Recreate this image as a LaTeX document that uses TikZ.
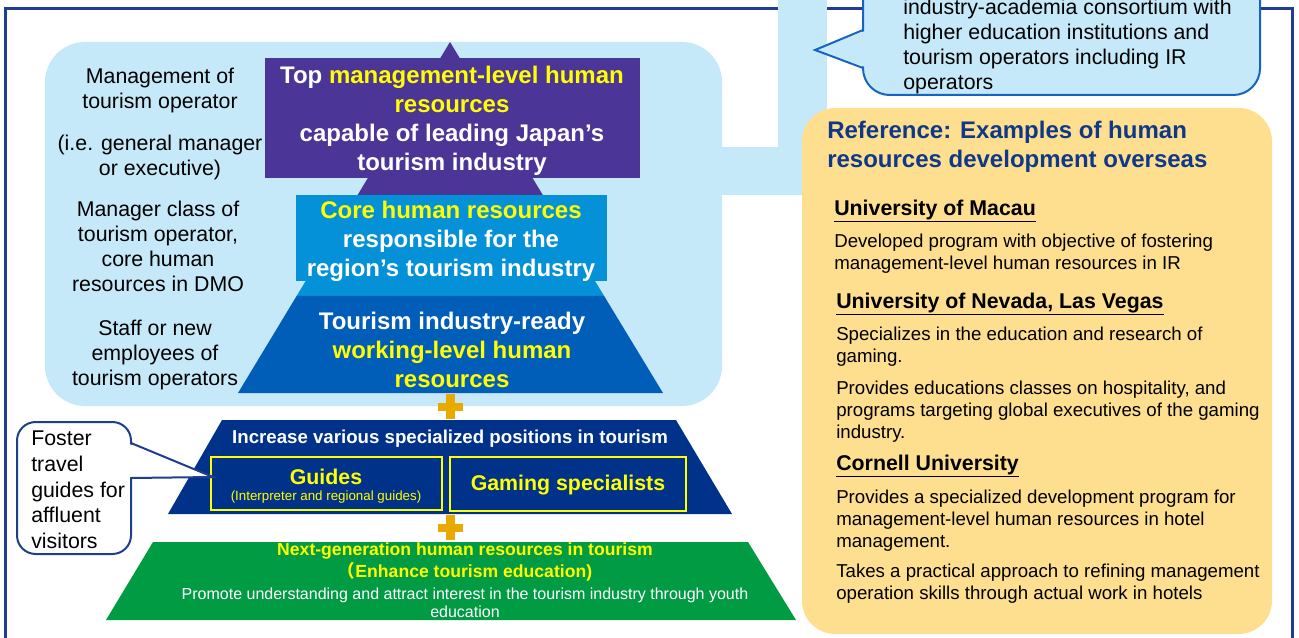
\documentclass[tikz,border=0pt]{standalone}
\usepackage{fontspec}
\setmainfont{Liberation Sans}
\newfontfamily\cjkfont{Noto Sans CJK JP}
\usetikzlibrary{calc}
\definecolor{frameblue}{HTML}{1F3E8F}
\definecolor{lightsky}{HTML}{C6E9FA}
\definecolor{toppurple}{HTML}{4B3597}
\definecolor{coreblue}{HTML}{0491D8}
\definecolor{workblue}{HTML}{005EB8}
\definecolor{specnavy}{HTML}{003289}
\definecolor{nextgreen}{HTML}{009B43}
\definecolor{hiyellow}{HTML}{FFFF00}
\definecolor{plusorange}{HTML}{E8A900}
\definecolor{refyellow}{HTML}{FEDF8F}
\definecolor{refblue}{HTML}{0F3888}
\definecolor{calloutblue}{HTML}{1565C0}
\newcommand{\yel}[1]{\textcolor{hiyellow}{#1}}

\begin{document}
\begin{tikzpicture}[x=0.75pt,y=-0.75pt,
  every node/.style={inner sep=0pt},
  sidetxt/.style={align=center,font=\fontsize{16}{18.75}\selectfont},
  tiertxt/.style={align=center,text=white,font=\fontsize{18}{21.75}\selectfont\bfseries},
  posbox/.style={draw=hiyellow,line width=1.5pt},
  postxt/.style={text=hiyellow,font=\fontsize{16}{18}\selectfont\bfseries},
  unihead/.style={anchor=west,font=\fontsize{16}{19}\selectfont\bfseries},
  refbody/.style={anchor=west,align=left,font=\fontsize{14}{16.6}\selectfont}]
\useasboundingbox (0,0) rectangle (1299,638);
% frame
\draw[frameblue,line width=2.25pt] (5,9) rectangle (1292,700);
% light blue area and band
\fill[lightsky,rounded corners=30] (45,42) rectangle (722,406);
\fill[lightsky] (715,147) rectangle (827,195);
\fill[lightsky] (778,-20) rectangle (827,195);
% pyramid
\coordinate (apex) at (450,42);
\coordinate (bl) at (238,393);
\coordinate (br) at (663,393);
\fill[toppurple] (apex) -- ($(apex)!0.436!(br)$) -- ($(apex)!0.436!(bl)$) -- cycle;
\fill[toppurple] (265,58) rectangle (640,178);
\fill[coreblue] ($(apex)!0.436!(bl)$) -- ($(apex)!0.436!(br)$) -- ($(apex)!0.7236!(br)$) -- ($(apex)!0.7236!(bl)$) -- cycle;
\fill[coreblue] (296,195) rectangle (607,281);
\fill[workblue] ($(apex)!0.7236!(bl)$) -- ($(apex)!0.7236!(br)$) -- (br) -- (bl) -- cycle;
\node (toptier) [tiertxt] at (452,121) {Top \yel{management-level human}\\\yel{resources}\\capable of leading Japan’s\\tourism industry};
\node (coretier) [tiertxt] at (451,241) {\yel{Core human resources}\\responsible for the\\region’s tourism industry};
\node (worktier) [tiertxt] at (452,350) {Tourism industry-ready\\\yel{working-level human}\\\yel{resources}};
% levels on the left
\node (mgmt) [sidetxt] at (160,90) {Management of\\tourism operator};
\node (mgmtex) [sidetxt] at (160,157) {(i.e. general manager\\or executive)};
\node (mgrclass) [sidetxt] at (158,246) {Manager class of\\tourism operator,\\core human\\resources in DMO};
\node (staff) [sidetxt] at (155,355) {Staff or new\\employees of\\tourism operators};
% plus signs
\foreach \py in {406.5,527.5}{
  \fill[plusorange] (437.5,\py-4) rectangle (462.5,\py+4);
  \fill[plusorange] (446,\py-12.5) rectangle (455,\py+12.5);
}
% specialized positions
\fill[specnavy] (222,420) -- (676,420) -- (732,514) -- (168,514) -- cycle;
\node (spectitle) [text=white,font=\fontsize{14}{16}\selectfont\bfseries] at (450,439) {Increase various specialized positions in tourism};
\draw[posbox] (211,457) rectangle (442,510);
\draw[posbox] (450,457) rectangle (686,511);
\node (guides) [postxt] at (326,477) {Guides};
\node (guidesub) [text=hiyellow,font=\fontsize{10}{12}\selectfont] at (326,497) {(Interpreter and regional guides)};
\node (gaming) [postxt] at (568,485) {Gaming specialists};
% next generation
\fill[nextgreen] (153,542) -- (748,542) -- (796,620) -- (106,620) -- cycle;
\node (nexthead) [align=center,text=hiyellow,font=\fontsize{13.2}{16.5}\selectfont\bfseries] at (465,562) {Next-generation human resources in tourism\\{\cjkfont （}Enhance tourism education)};
\node (nextbody) [align=center,text=white,font=\fontsize{12}{13.5}\selectfont] at (465,603) {Promote understanding and attract interest in the tourism industry through youth\\education};
% callout: guides
\filldraw[draw=frameblue,fill=white,line width=1.5pt,rounded corners=14] (17,422) rectangle (131,554);
\fill[white] (129,444) -- (213,477) -- (129,477) -- cycle;
\draw[frameblue,line width=1.5pt] (131,443) -- (213,477) -- (131,478);
\node (foster) [anchor=west,align=left,font=\fontsize{16}{19.3}\selectfont] at (31,490) {Foster\\travel\\guides for\\affluent\\visitors};
% callout: consortium
\filldraw[draw=calloutblue,fill=lightsky,line width=1.5pt,rounded corners=20] (863,-40) rectangle (1260,95);
\fill[lightsky] (865,31) -- (815,50) -- (865,67) -- cycle;
\draw[calloutblue,line width=1.5pt] (863,30) -- (815,50) -- (863,68);
\node (consort) [anchor=west,align=left,font=\fontsize{16}{18.75}\selectfont] at (903,46) {industry-academia consortium with\\higher education institutions and\\tourism operators including IR\\operators};
% reference box
\fill[refyellow,rounded corners=25] (802,108) rectangle (1272,634);
\node (refttl) [anchor=west,align=left,text=refblue,font=\fontsize{18}{21.75}\selectfont\bfseries] at (827,147) {Reference: Examples of human\\resources development overseas};
\node (macau) [unihead] at (834,211) {\underline{University of Macau}};
\node (macaudesc) [refbody] at (834,254) {Developed program with objective of fostering\\management-level human resources in IR};
\node (unlv) [unihead] at (836,304) {\underline{University of Nevada, Las Vegas}};
\node (unlvdesc) [refbody] at (836,347) {Specializes in the education and research of\\gaming.};
\node (unlvclass) [refbody] at (836,411.5) {Provides educations classes on hospitality, and\\programs targeting global executives of the gaming\\industry.};
\node (cornell) [unihead] at (836,466) {\underline{Cornell University}};
\node (cornelldesc) [refbody] at (836,520.5) {Provides a specialized development program for\\management-level human resources in hotel\\management.};
\node (cornellpract) [refbody] at (836,584) {Takes a practical approach to refining management\\operation skills through actual work in hotels};
\end{tikzpicture}
\end{document}
